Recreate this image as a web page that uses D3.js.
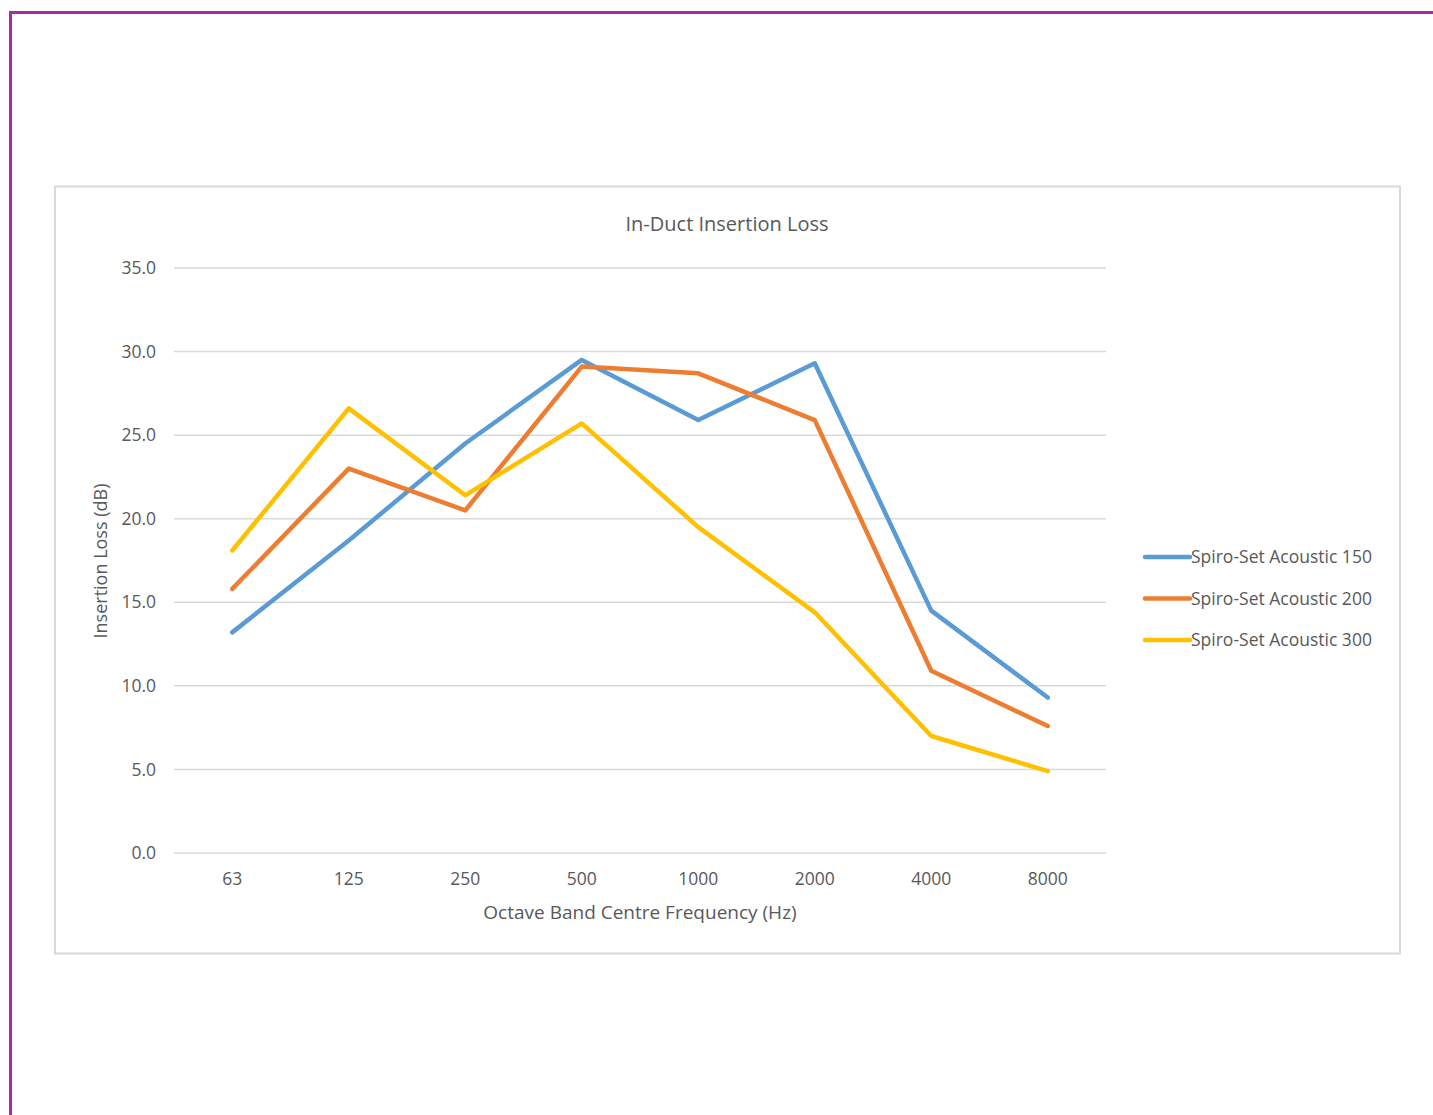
<!DOCTYPE html>
<html>
<head>
<meta charset="utf-8">
<script src="https://cdn.jsdelivr.net/npm/d3@7"></script>
<style>
  body { margin: 0; background: #fff; }
  text { font-family: "Open Sans", "Liberation Sans", sans-serif; fill: #595959; }
</style>
</head>
<body>
<script>
// chart data
var freqs = ["63", "125", "250", "500", "1000", "2000", "4000", "8000"];
var seriesNames = ["Spiro-Set Acoustic 150", "Spiro-Set Acoustic 200", "Spiro-Set Acoustic 300"];
var acoustic150 = [13.2, 18.7, 24.5, 29.5, 25.9, 29.3, 14.5, 9.3];
var acoustic200 = [15.8, 23.0, 20.5, 29.1, 28.7, 25.9, 10.9, 7.6];
var acoustic300 = [18.1, 26.6, 21.4, 25.7, 19.5, 14.4, 7.0, 4.9];
var yTicks = [0, 5, 10, 15, 20, 25, 30, 35];
var colors = ["#5B9BD5", "#ED7D31", "#FFC000"];

var series = [acoustic150, acoustic200, acoustic300];

var svg = d3.select("body").append("svg")
  .attr("width", 1433)
  .attr("height", 1115);

// magenta page frame (top and left edges)
svg.append("path")
  .attr("d", "M10.5,1115 L10.5,12.5 L1433,12.5")
  .attr("fill", "none")
  .attr("stroke", "#B0279F")
  .attr("stroke-width", 3);

// chart box
svg.append("rect")
  .attr("x", 55).attr("y", 186.5)
  .attr("width", 1345).attr("height", 767)
  .attr("fill", "#fff")
  .attr("stroke", "#D9D9D9")
  .attr("stroke-width", 2);

var plotLeft = 174, plotRight = 1106, plotTop = 268, plotBottom = 853;

var x = d3.scaleBand().domain(freqs).range([plotLeft, plotRight]);
var y = d3.scaleLinear().domain([0, 35]).range([plotBottom, plotTop]);

// gridlines
svg.append("g").selectAll("line")
  .data(yTicks)
  .enter().append("line")
  .attr("x1", plotLeft).attr("x2", plotRight)
  .attr("y1", function(d){ return y(d); })
  .attr("y2", function(d){ return y(d); })
  .attr("stroke", "#D9D9D9")
  .attr("stroke-width", 1.5);

// y tick labels
svg.append("g").selectAll("text")
  .data(yTicks)
  .enter().append("text")
  .attr("x", 156)
  .attr("y", function(d){ return y(d); })
  .attr("dy", "0.35em")
  .attr("text-anchor", "end")
  .style("font-size", "17.5px")
  .text(function(d){ return d3.format(".1f")(d); });

// x tick labels
svg.append("g").selectAll("text")
  .data(freqs)
  .enter().append("text")
  .attr("x", function(d){ return x(d) + x.bandwidth() / 2; })
  .attr("y", 879)
  .attr("dy", "0.35em")
  .attr("text-anchor", "middle")
  .style("font-size", "17.5px")
  .text(function(d){ return d; });

// titles
svg.append("text")
  .attr("x", 727).attr("y", 224)
  .attr("dy", "0.35em")
  .attr("text-anchor", "middle")
  .style("font-size", "20px")
  .text("In-Duct Insertion Loss");

svg.append("text")
  .attr("x", 640).attr("y", 912)
  .attr("dy", "0.35em")
  .attr("text-anchor", "middle")
  .style("font-size", "19px")
  .text("Octave Band Centre Frequency (Hz)");

svg.append("text")
  .attr("transform", "translate(101,561) rotate(-90)")
  .attr("dy", "0.35em")
  .attr("text-anchor", "middle")
  .style("font-size", "18px")
  .text("Insertion Loss (dB)");

// lines
var line = d3.line()
  .x(function(d, i){ return x(freqs[i]) + x.bandwidth() / 2; })
  .y(function(d){ return y(d); });

svg.append("g").selectAll("path")
  .data(series)
  .enter().append("path")
  .attr("d", line)
  .attr("fill", "none")
  .attr("stroke", function(d, i){ return colors[i]; })
  .attr("stroke-width", 4.5)
  .attr("stroke-linejoin", "round")
  .attr("stroke-linecap", "round");

// legend
var legend = svg.append("g").selectAll("g")
  .data(seriesNames)
  .enter().append("g")
  .attr("transform", function(d, i){ return "translate(1145," + (557 + i * 41.5) + ")"; });

legend.append("line")
  .attr("x1", 0).attr("x2", 45)
  .attr("stroke", function(d, i){ return colors[i]; })
  .attr("stroke-width", 4.5)
  .attr("stroke-linecap", "round");

legend.append("text")
  .attr("x", 46)
  .attr("dy", "0.35em")
  .style("font-size", "17.5px")
  .text(function(d){ return d; });
</script>
</body>
</html>
